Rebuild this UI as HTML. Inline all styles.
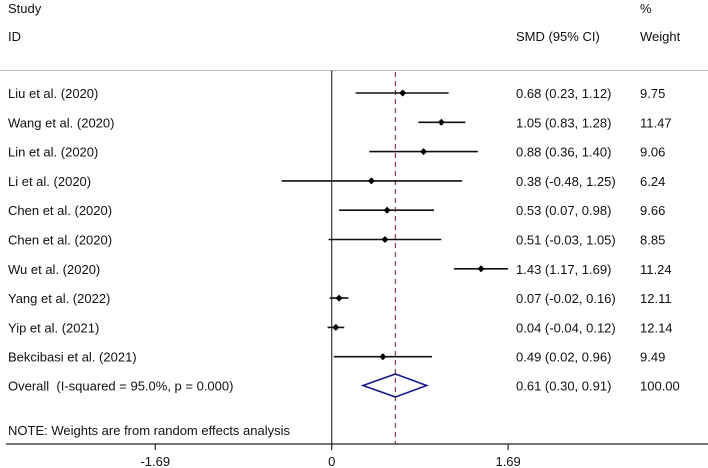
<!DOCTYPE html>
<html><head><meta charset="utf-8"><style>
body{margin:0;background:#fff}
svg{display:block}
text{font-family:"Liberation Sans",Arial,sans-serif;font-size:13px;fill:#111}
</style></head><body>
<svg id="chart" width="708" height="468" viewBox="0 0 708 468">
<text x="8" y="13">Study</text>
<text x="8" y="41">ID</text>
<text x="516" y="41">SMD (95% CI)</text>
<text x="640" y="13">%</text>
<text x="640" y="41">Weight</text>
<line x1="0" y1="70.5" x2="708" y2="70.5" stroke="#bbb" stroke-width="1"/>
<g id="marks"></g>
<text x="8" y="435">NOTE: Weights are from random effects analysis</text>
</svg>
<script>
const studies=["Liu et al. (2020)","Wang et al. (2020)","Lin et al. (2020)","Li et al. (2020)","Chen et al. (2020)","Chen et al. (2020)","Wu et al. (2020)","Yang et al. (2022)","Yip et al. (2021)","Bekcibasi et al. (2021)"];
const smd=[0.68,1.05,0.88,0.38,0.53,0.51,1.43,0.07,0.04,0.49];
const lower=[0.23,0.83,0.36,-0.48,0.07,-0.03,1.17,-0.02,-0.04,0.02];
const upper=[1.12,1.28,1.40,1.25,0.98,1.05,1.69,0.16,0.12,0.96];
const weights=["9.75","11.47","9.06","6.24","9.66","8.85","11.24","12.11","12.14","9.49"];
const overall=[0.61,0.30,0.91];
const overallWeight="100.00";
const ticks=[-1.69,0,1.69];
const tickLabels=["-1.69","0","1.69"];

const NS="http://www.w3.org/2000/svg";
const svg=document.getElementById('chart');
const g=document.getElementById('marks');
const X=v=>331.7+v*104.4;
const Y=i=>93+i*29.3;
const f=n=>n.toFixed(2);
function mk(tag,attrs,parent){const e=document.createElementNS(NS,tag);for(const k in attrs)e.setAttribute(k,attrs[k]);(parent||g).appendChild(e);return e;}

const axisY=444;
let e=mk('line',{x1:X(0),y1:70.5,x2:X(0),y2:axisY,stroke:'#444','stroke-width':1.3});


e=mk('line',{x1:X(overall[0]),y1:72,x2:X(overall[0]),y2:axisY,stroke:'#9b3b45','stroke-width':1.2,'stroke-dasharray':'5,4'});


e=mk('line',{x1:6,y1:axisY,x2:708,y2:axisY,stroke:'#222','stroke-width':1.2});


ticks.forEach((t,i)=>{
  let l=mk('line',{x1:X(t),y1:axisY,x2:X(t),y2:axisY+6,stroke:'#222','stroke-width':1.2});
  
  
  let tx=mk('text',{x:X(t),y:axisY+22,'text-anchor':'middle'});
  tx.textContent=tickLabels[i];
  
  
});

studies.forEach((s,i)=>{
  const y=Y(i);
  let t=mk('text',{x:8,y:y+5});t.textContent=s;
  
  
  let ci=mk('line',{x1:X(lower[i]),y1:y,x2:X(upper[i]),y2:y,stroke:'#111','stroke-width':1.6});
  
  
  const px=X(smd[i]);
  let p=mk('polygon',{points:`${px-3.5},${y} ${px},${y-3.5} ${px+3.5},${y} ${px},${y+3.5}`,fill:'#000'});
  
  
  let v=mk('text',{x:516,y:y+5});v.textContent=`${f(smd[i])} (${f(lower[i])}, ${f(upper[i])})`;
  
  
  let w=mk('text',{x:640,y:y+5});w.textContent=weights[i];
  
  
});

const oy=Y(studies.length)-0.5;
let ot=mk('text',{x:8,y:oy+5});ot.textContent="Overall\u00a0\u00a0(I-squared = 95.0%, p = 0.000)";


let d=mk('polygon',{points:`${X(overall[1])},${oy} ${X(overall[0])},${oy-11.5} ${X(overall[2])},${oy} ${X(overall[0])},${oy+11.5}`,fill:'none',stroke:'#1a1a8c','stroke-width':1.6});


let ov=mk('text',{x:516,y:oy+5});ov.textContent=`${f(overall[0])} (${f(overall[1])}, ${f(overall[2])})`;


let ow=mk('text',{x:640,y:oy+5});ow.textContent=overallWeight;


</script>
</body></html>
